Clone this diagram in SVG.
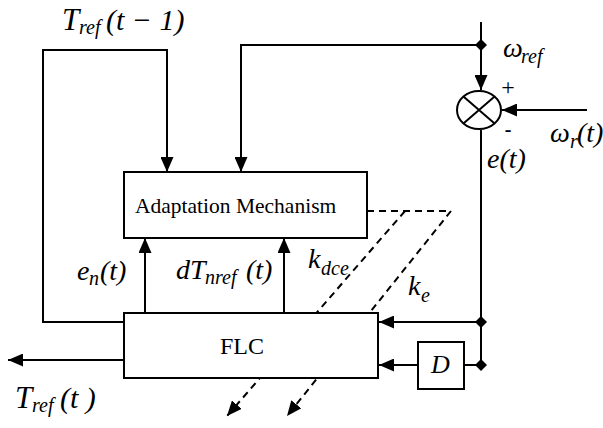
<svg xmlns="http://www.w3.org/2000/svg" width="603" height="428" viewBox="0 0 603 428">
<style>
.ln{fill:none;stroke:#000;stroke-width:2}
.ds{fill:none;stroke:#000;stroke-width:2;stroke-dasharray:7 5}
.bx{fill:#fff;stroke:#000;stroke-width:2}
.t{font-family:'Liberation Serif','DejaVu Serif',serif;fill:#000}
.i{font-family:'Liberation Serif','DejaVu Serif',serif;font-style:italic;fill:#000}
</style>
<defs>
<marker id="ar" viewBox="0 0 15 13" refX="15" refY="6.5" markerWidth="15" markerHeight="13" markerUnits="userSpaceOnUse" orient="auto">
<path d="M0,0 L15,6.5 L0,13 z" fill="#000"/>
</marker>
<path id="dm" d="M0,-6 L6,0 L0,6 L-6,0 z" fill="#000"/>
</defs>
<g id="connectors">
<path class="ds" d="M367,211 H451 L287,416" marker-end="url(#ar)"/>
<path class="ds" d="M405,211 L227,416" marker-end="url(#ar)"/>
<path class="ln" d="M124,322 H43 V50 H167 V172" marker-end="url(#ar)"/>
<path class="ln" d="M481,45 H241 V172" marker-end="url(#ar)"/>
<path class="ln" d="M481,22 V90" marker-end="url(#ar)"/>
<path class="ln" d="M587,110 H502" marker-end="url(#ar)"/>
<path class="ln" d="M481,130 V365"/>
<path class="ln" d="M481,322 H379" marker-end="url(#ar)"/>
<path class="ln" d="M481,365 H464"/>
<path class="ln" d="M418,365 H379" marker-end="url(#ar)"/>
<path class="ln" d="M124,360 H8" marker-end="url(#ar)"/>
<path class="ln" d="M145,313 V238" marker-end="url(#ar)"/>
<path class="ln" d="M284,313 V238" marker-end="url(#ar)"/>
<use href="#dm" x="481" y="45"/>
<use href="#dm" x="481" y="322"/>
<use href="#dm" x="481" y="365"/>
</g>
<g id="adaptation">
<rect class="bx" x="124" y="172" width="243" height="66"/>
<text class="t" x="135" y="213" font-size="21.5">Adaptation Mechanism</text>
</g>
<g id="flc">
<rect class="bx" x="124" y="313" width="254" height="65"/>
<text class="t" x="220" y="354" font-size="24">FLC</text>
</g>
<g id="delay">
<rect class="bx" x="418" y="342" width="46" height="47"/>
<text class="i" x="431" y="373" font-size="26">D</text>
</g>
<g id="sum">
<ellipse class="bx" cx="479" cy="110" rx="22" ry="19"/>
<path class="ln" d="M463.4,96.6 L494.6,123.4 M463.4,123.4 L494.6,96.6"/>
<text class="t" x="508" y="95" font-size="24" text-anchor="middle">+</text>
<text class="t" x="508" y="136" font-size="20" font-weight="bold" text-anchor="middle">-</text>
</g>
<g id="labels">
<text class="i" x="62" y="30" font-size="31">T</text>
<text class="i" x="79" y="34" font-size="20">ref</text>
<text class="i" x="106" y="30" font-size="30">(t − 1)</text>
<text class="i" x="15" y="408" font-size="31">T</text>
<text class="i" x="32" y="412" font-size="20">ref</text>
<text class="i" x="60" y="408" font-size="30">(t )</text>
<text class="i" x="77" y="280" font-size="28">e</text>
<text class="i" x="89" y="285" font-size="20">n</text>
<text class="i" x="100" y="280" font-size="28">(t)</text>
<text class="i" x="176" y="279" font-size="28">dT</text>
<text class="i" x="205" y="284" font-size="20">nref</text>
<text class="i" x="246" y="279" font-size="28">(t)</text>
<text class="i" x="308" y="268" font-size="28">k</text>
<text class="i" x="321" y="275" font-size="20">dce</text>
<text class="i" x="408" y="295" font-size="28">k</text>
<text class="i" x="421" y="302" font-size="20">e</text>
<text class="i" x="503" y="57" font-size="28">ω</text>
<text class="i" x="521" y="63" font-size="20">ref</text>
<text class="i" x="550" y="142" font-size="28">ω</text>
<text class="i" x="570" y="148" font-size="20">r</text>
<text class="i" x="577" y="142" font-size="28">(t)</text>
<text class="i" x="487" y="168" font-size="28">e(t)</text>
</g>
</svg>
